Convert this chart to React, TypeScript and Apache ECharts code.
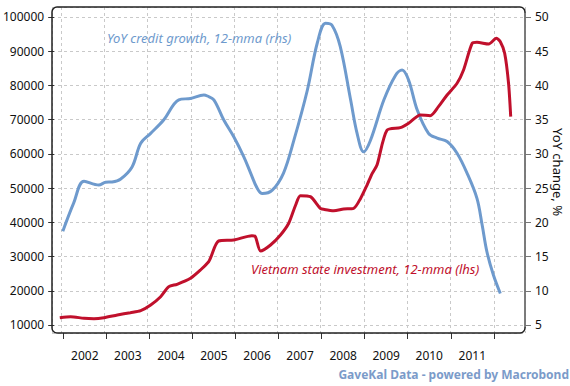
import React, { useEffect, useRef } from "react";
import * as echarts from "echarts";

// ---- data (decimal years) ----
const CREDIT_YEARS = [
  2002.04, 2002.29, 2002.53, 2002.87, 2003.03, 2003.18, 2003.37, 2003.64, 2003.84, 2004.07,
  2004.37, 2004.72, 2004.99, 2005.3, 2005.38, 2005.53, 2005.76, 2005.99, 2006.22, 2006.38,
  2006.53, 2006.65, 2006.88, 2007.14, 2007.38, 2007.69, 2007.92, 2008.11, 2008.26, 2008.45,
  2008.69, 2008.84, 2008.99, 2009.15, 2009.46, 2009.73, 2009.88, 2010.03, 2010.23, 2010.49,
  2010.69, 2010.92, 2011.15, 2011.38, 2011.61, 2011.73, 2011.84, 2011.99, 2012.15,
];
const CREDIT_GROWTH = [
  18.7, 22.8, 26.0, 25.45, 25.85, 25.9, 26.3, 28.1, 31.55, 33.0,
  34.95, 37.9, 38.1, 38.6, 38.46, 37.9, 34.95, 32.5, 29.6, 27.2,
  25.0, 24.2, 24.7, 27.2, 32.0, 39.3, 46.2, 49.1, 48.8, 45.7,
  37.9, 33.0, 30.3, 32.0, 37.9, 41.5, 42.26, 40.8, 36.4, 33.0,
  32.3, 31.8, 30.1, 27.2, 23.5, 19.6, 15.7, 12.3, 9.6,
];
const INVEST_YEARS = [
  2001.97, 2002.22, 2002.53, 2002.76, 2002.99, 2003.3, 2003.6, 2003.84, 2004.07, 2004.3,
  2004.49, 2004.68, 2004.99, 2005.22, 2005.41, 2005.45, 2005.64, 2005.99, 2006.41, 2006.49,
  2006.61, 2006.84, 2007.07, 2007.26, 2007.42, 2007.53, 2007.76, 2007.99, 2008.07, 2008.3,
  2008.53, 2008.76, 2008.92, 2009.07, 2009.19, 2009.3, 2009.53, 2009.84, 2010.03, 2010.3,
  2010.53, 2010.72, 2010.92, 2011.15, 2011.3, 2011.5, 2011.61, 2011.88, 2012.06, 2012.15,
  2012.25, 2012.34, 2012.39,
];
const STATE_INVESTMENT = [
  12130, 12430, 11950, 11840, 12130, 12920, 13600, 14200, 15850, 18270,
  21200, 21900, 23650, 26070, 28500, 29500, 34550, 34840, 36100, 35800,
  31620, 33380, 36300, 39720, 45070, 47800, 47500, 44100, 43800, 43400,
  43900, 44100, 47000, 50900, 54300, 56750, 66900, 67660, 68940, 71370,
  71170, 73800, 77200, 80630, 84520, 92320, 92600, 92100, 93780, 92790,
  89400, 80630, 70870,
];

// ---- axis ranges ----
const X_MIN = 2001.79;
const X_MAX = 2012.72;
const FIRST_YEAR = 2002;
const LAST_YEAR = 2012;
const LHS_MIN = 7662;
const LHS_MAX = 102922;
const LHS_TICK_MIN = 10000;
const LHS_TICK_MAX = 100000;
const LHS_STEP = 10000;
const RHS_SCALE = 2000; // lhs units per rhs unit
const RHS_TICK_MIN = 5;
const RHS_TICK_MAX = 50;
const RHS_STEP = 5;

const CREDIT_LABEL = "YoY credit growth, 12-mma (rhs)";
const INVEST_LABEL = "Vietnam state investment, 12-mma (lhs)";
const RHS_NAME = "YoY change, %";
const SOURCE = "GaveKal Data - powered by Macrobond";

// ---- layout (px) ----
const L = 52, R = 525, T = 7, B = 333;
const BLUE = "#6e9acd";
const RED = "#c0102c";
const FONT = "Noto Sans";

const pxOf = (v: number) => L + ((v - X_MIN) / (X_MAX - X_MIN)) * (R - L);
const pyOf = (v: number) => B - ((v - LHS_MIN) / (LHS_MAX - LHS_MIN)) * (B - T);

export default function App() {
  const ref = useRef<HTMLDivElement>(null);
  useEffect(() => {
    if (!ref.current) return;
    const chart = echarts.init(ref.current, undefined, { renderer: "svg" });
    const g1L = pxOf(FIRST_YEAR);
    const g1R = pxOf(LAST_YEAR);
    const g1T = pyOf(LHS_TICK_MAX);
    const g1B = pyOf(LHS_TICK_MIN);
    const dash = { color: "#c9c9c9", type: [3, 3] as any, width: 1 };
    const hidden = {
      axisLine: { show: false },
      axisTick: { show: false },
      axisLabel: { show: false },
      splitLine: { show: false },
    };
    const label = { color: "#111", fontFamily: FONT, fontSize: 12 };
    chart.setOption({
      animation: false,
      backgroundColor: "#fff",
      grid: [
        { left: L, top: T, width: R - L, height: B - T },
        { left: g1L, top: g1T, width: g1R - g1L, height: g1B - g1T },
      ],
      xAxis: [
        {
          type: "value", gridIndex: 0, min: X_MIN, max: X_MAX, minInterval: 1, maxInterval: 1,
          ...hidden, splitLine: { show: true, lineStyle: dash },
        },
        {
          type: "value", gridIndex: 1, position: "bottom", min: FIRST_YEAR, max: LAST_YEAR, interval: 1,
          offset: B - g1B,
          ...hidden,
          axisTick: { show: true, length: 6, lineStyle: { color: "#333", width: 1 } },
        },
        {
          type: "value", gridIndex: 1, position: "bottom", min: FIRST_YEAR - 0.5, max: LAST_YEAR - 0.5,
          minInterval: 1, maxInterval: 1, offset: B - g1B,
          ...hidden,
          axisLabel: {
            show: true, margin: 16, ...label,
            formatter: (v: number) => (Number.isInteger(v) ? String(v) : ""),
          },
        },
      ],
      yAxis: [
        {
          type: "value", gridIndex: 0, position: "left", min: LHS_MIN, max: LHS_MAX,
          minInterval: LHS_STEP, maxInterval: LHS_STEP,
          ...hidden, splitLine: { show: true, lineStyle: dash },
        },
        {
          type: "value", gridIndex: 0, position: "right", min: LHS_MIN / RHS_SCALE, max: LHS_MAX / RHS_SCALE,
          ...hidden,
        },
        {
          type: "value", gridIndex: 1, position: "left", min: LHS_TICK_MIN, max: LHS_TICK_MAX, interval: LHS_STEP,
          offset: g1L - L,
          ...hidden,
          axisTick: { show: true, length: 6, lineStyle: { color: "#333", width: 1 } },
          axisLabel: { show: true, margin: 10, ...label, formatter: (v: number) => String(v) },
        },
        {
          type: "value", gridIndex: 1, position: "right", min: RHS_TICK_MIN, max: RHS_TICK_MAX, interval: RHS_STEP,
          offset: R - g1R,
          ...hidden,
          axisTick: { show: true, length: 6, lineStyle: { color: "#777", width: 1 } },
          axisLabel: { show: true, margin: 10, ...label, formatter: (v: number) => String(v) },
        },
      ],
      series: [
        {
          type: "line", xAxisIndex: 0, yAxisIndex: 1, smooth: 0.35,
          showSymbol: false, symbol: "none",
          lineStyle: { color: BLUE, width: 3 },
          data: CREDIT_YEARS.map((x, i) => [x, CREDIT_GROWTH[i]]),
        },
        {
          type: "line", xAxisIndex: 0, yAxisIndex: 0, smooth: 0.25,
          showSymbol: false, symbol: "none",
          lineStyle: { color: RED, width: 3 },
          data: INVEST_YEARS.map((x, i) => [x, STATE_INVESTMENT[i]]),
        },
        { type: "line", xAxisIndex: 1, yAxisIndex: 2, data: [], silent: true },
      ],
      graphic: [
        {
          type: "rect", z: 100, silent: true,
          shape: { x: L, y: T, width: R - L, height: B - T, r: 5 },
          style: { fill: "none", stroke: "#222", lineWidth: 1.5 },
        },
        {
          type: "line", z: 101, silent: true,
          shape: { x1: R, y1: T + 6, x2: R, y2: B - 6 },
          style: { stroke: "#888", lineWidth: 1.5 },
        },
        {
          type: "text", x: 107, y: 38, z: 102,
          style: { text: CREDIT_LABEL, fill: BLUE, font: `italic 13px "${FONT}"`, verticalAlign: "middle" },
        },
        {
          type: "text", x: 251, y: 269, z: 102,
          style: { text: INVEST_LABEL, fill: RED, font: `italic 13px "${FONT}"`, verticalAlign: "middle" },
        },
        {
          type: "text", x: 558, y: 172, rotation: -Math.PI / 2, z: 102,
          style: { text: RHS_NAME, fill: "#111", font: `13px "${FONT}"`, align: "center", verticalAlign: "middle" },
        },
        {
          type: "text", x: 569, y: 374, z: 102,
          style: { text: SOURCE, fill: "#7b9bc9", font: `bold 12px "${FONT}"`, align: "right", verticalAlign: "middle" },
        },
      ],
    });
    return () => chart.dispose();
  }, []);
  return (
    <div
      ref={ref}
      style={{ position: "fixed", left: 0, top: 0, width: 570, height: 386 }}
    />
  );
}
